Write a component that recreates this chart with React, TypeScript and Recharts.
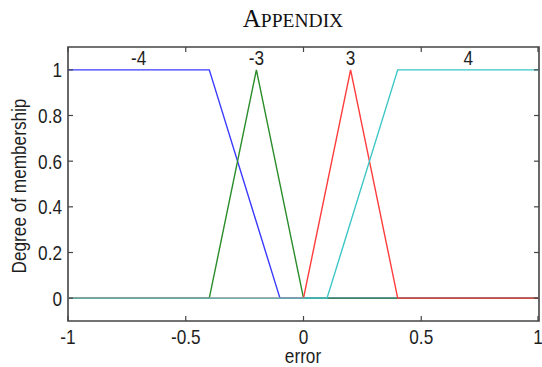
import { ComposedChart, Line, Scatter, XAxis, YAxis, ReferenceArea } from "recharts";

// membership functions of "error" (breakpoints)
const mf4X = [-1, -0.4, -0.1, 1];
const mf4Y = [1, 1, 0, 0];
const mf3nX = [-1, -0.4, -0.2, 0, 1];
const mf3nY = [0, 0, 1, 0, 0];
const mf3X = [-1, 0, 0.2, 0.4, 1];
const mf3Y = [0, 0, 1, 0, 0];
const mf4pX = [-1, 0.1, 0.4, 1];
const mf4pY = [0, 0, 1, 1];

const mfNames = ["-4", "-3", "3", "4"];
const mfNameX = [-0.7, -0.2, 0.2, 0.7];

const xTicks = [-1, -0.5, 0, 0.5, 1];
const yTicks = [0, 0.2, 0.4, 0.6, 0.8, 1];

const W = 542;
const H = 367;
const TOP = 47;
const LEFT = 68;
const RIGHT = 539;
const BOTTOM = 321;

const zip = (xs: number[], ys: number[]) => xs.map((x, i) => ({ x, y: ys[i] }));
const labelData = mfNames.map((name, i) => ({ x: mfNameX[i], y: 1, name }));

const INK = "#1e1e1e";
const BOX = "#444";

function Txt({ x, y, anchor = "middle", rotate = 0, children }: any) {
  return (
    <text
      transform={`translate(${x},${y}) rotate(${rotate}) scale(0.86,1)`}
      textAnchor={anchor}
      fontSize={20}
      fontFamily="Liberation Sans, Arial, sans-serif"
      fill={INK}
    >
      {children}
    </text>
  );
}

function XTick({ x, payload }: any) {
  return (
    <g>
      <line x1={x} x2={x} y1={BOTTOM} y2={BOTTOM - 5} stroke={BOX} strokeWidth={1.2} />
      <line x1={x} x2={x} y1={TOP} y2={TOP + 5} stroke={BOX} strokeWidth={1.2} />
      <Txt x={x} y={BOTTOM + 23}>{payload.value}</Txt>
    </g>
  );
}

function YTick({ y, payload }: any) {
  return (
    <g>
      <line x1={LEFT} x2={LEFT + 5} y1={y} y2={y} stroke={BOX} strokeWidth={1.2} />
      <line x1={RIGHT} x2={RIGHT - 5} y1={y} y2={y} stroke={BOX} strokeWidth={1.2} />
      <Txt x={LEFT - 6} y={y + 7.5} anchor="end">{payload.value}</Txt>
    </g>
  );
}

function MfLabel({ cx, cy, payload }: any) {
  return <Txt x={cx} y={cy - 5}>{payload.name}</Txt>;
}

export default function App() {
  const lineProps = { type: "linear" as const, dataKey: "y", dot: false, isAnimationActive: false, strokeWidth: 1.4 };
  return (
    <div style={{ position: "absolute", left: 0, top: 0, width: W, height: H, background: "#fff" }}>
      <ComposedChart width={W} height={H} margin={{ top: TOP, right: W - RIGHT, bottom: 0, left: 0 }}>
        <XAxis
          type="number"
          dataKey="x"
          domain={[-1, 1]}
          ticks={xTicks}
          height={H - BOTTOM}
          axisLine={false}
          tickLine={false}
          tickSize={0}
          tick={<XTick />}
          allowDataOverflow
        />
        <YAxis
          type="number"
          dataKey="y"
          domain={[-0.1, 1.1]}
          ticks={yTicks}
          width={LEFT}
          axisLine={false}
          tickLine={false}
          tickSize={0}
          tick={<YTick />}
          allowDataOverflow
        />
        <Line {...lineProps} data={zip(mf4X, mf4Y)} stroke="#3a3aff" />
        <Line {...lineProps} data={zip(mf3nX, mf3nY)} stroke="#2a8c2a" />
        <Line {...lineProps} data={zip(mf3X, mf3Y)} stroke="#ff3c3c" />
        <Line {...lineProps} data={zip(mf4pX, mf4pY)} stroke="#3cc6c6" />
        <Scatter data={labelData} dataKey="y" shape={<MfLabel />} isAnimationActive={false} />
        <ReferenceArea x1={-1} x2={1} y1={-0.1} y2={1.1} fill="none" stroke={BOX} strokeWidth={1.6} ifOverflow="visible" />
      </ComposedChart>
      <svg width={W} height={H} style={{ position: "absolute", left: 0, top: 0, pointerEvents: "none" }}>
        <text x={293} y={27} textAnchor="middle" fontFamily="Liberation Serif, Times New Roman, serif" fill="#111">
          <tspan fontSize={25}>A</tspan>
          <tspan fontSize={19.5}>PPENDIX</tspan>
        </text>
        <Txt x={303} y={363}>error</Txt>
        <Txt x={26} y={186} rotate={-90}>Degree of membership</Txt>
      </svg>
    </div>
  );
}
